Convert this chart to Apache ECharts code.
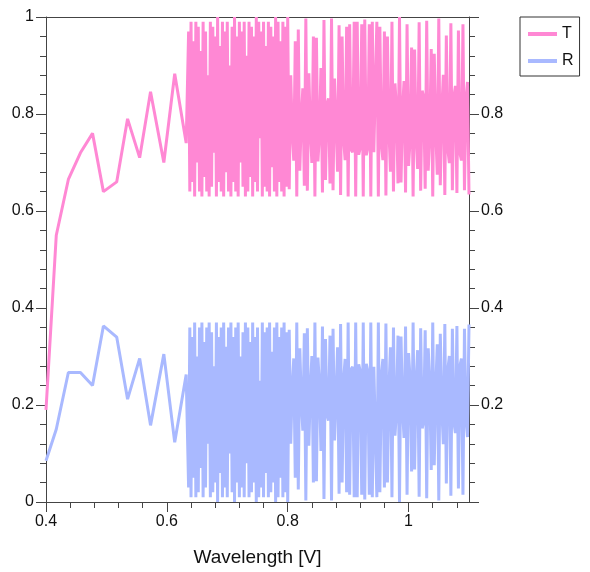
<!DOCTYPE html>
<html><head><meta charset="utf-8">
<script src="https://cdn.jsdelivr.net/npm/echarts@6/dist/echarts.min.js"></script>
<style>html,body{margin:0;padding:0;background:#fff}#c{width:590px;height:572px}</style>
</head><body><div id="c"></div>
<script>
// Coarse part of the spectrum
const xSparse = [0.400, 0.417, 0.437, 0.457, 0.477, 0.495, 0.517, 0.535, 0.555, 0.573, 0.595, 0.613, 0.632];
const tSparse = [0.19, 0.55, 0.665, 0.72, 0.76, 0.64, 0.66, 0.79, 0.71, 0.846, 0.70, 0.883, 0.74];
const rSparse = [0.085, 0.15, 0.267, 0.267, 0.24, 0.363, 0.34, 0.212, 0.296, 0.158, 0.305, 0.123, 0.263];

// Dense oscillating part, first stretch (0.636 - 0.798)
const xDenseA = [
0.636,0.638,0.640,0.642,0.644,0.646,0.648,0.650,0.652,0.654,
0.656,0.658,0.660,0.662,0.664,0.666,0.668,0.670,0.672,0.674,
0.676,0.678,0.680,0.682,0.684,0.686,0.688,0.690,0.692,0.694,
0.696,0.698,0.700,0.702,0.704,0.706,0.708,0.710,0.712,0.714,
0.716,0.718,0.720,0.722,0.724,0.726,0.728,0.730,0.732,0.734,
0.736,0.738,0.740,0.742,0.744,0.746,0.748,0.750,0.752,0.754,
0.756,0.758,0.760,0.762,0.764,0.766,0.768,0.770,0.772,0.774,
0.776,0.778,0.780,0.782,0.784,0.786,0.788,0.790,0.792,0.794,
0.796,0.798];
const tDenseA = [
.97,.64,.99,.66,.95,.63,.99,.70,.98,.64,
.93,.63,.99,.67,.97,.64,.88,.63,.99,.65,
.98,.72,.96,.63,1.0,.66,.94,.64,.99,.63,
.97,.68,.99,.64,.90,.63,.98,.66,1.0,.64,
.96,.63,.99,.70,.97,.65,.99,.63,.92,.64,
.99,.67,.98,.63,.96,.66,1.0,.64,.99,.75,
.97,.63,.99,.65,.94,.64,.99,.63,.98,.69,
.96,.64,1.0,.63,.99,.66,.95,.64,.99,.63,
.98,.65];
const rDenseA = [
.03,.36,.01,.34,.05,.37,.01,.30,.02,.36,
.07,.37,.01,.33,.03,.36,.12,.37,.01,.35,
.02,.28,.04,.37,0,.34,.06,.36,.01,.37,
.03,.32,.01,.36,.10,.37,.02,.34,0,.36,
.04,.37,.01,.30,.03,.35,.01,.37,.08,.36,
.01,.33,.02,.37,.04,.34,0,.36,.01,.25,
.03,.37,.01,.35,.06,.36,.01,.37,.02,.31,
.04,.36,0,.37,.01,.34,.05,.36,.01,.37,
.02,.35];

// Dense oscillating part, second stretch (0.800 - 1.100)
const xDenseB = [
0.8000,0.8025,0.8050,0.8075,0.8100,0.8125,0.8150,0.8175,0.8200,0.8225,
0.8250,0.8275,0.8300,0.8325,0.8350,0.8375,0.8400,0.8425,0.8450,0.8475,
0.8500,0.8525,0.8550,0.8575,0.8600,0.8625,0.8650,0.8675,0.8700,0.8725,
0.8750,0.8775,0.8800,0.8825,0.8850,0.8875,0.8900,0.8925,0.8950,0.8975,
0.9000,0.9025,0.9050,0.9075,0.9100,0.9125,0.9150,0.9175,0.9200,0.9225,
0.9250,0.9275,0.9300,0.9325,0.9350,0.9375,0.9400,0.9425,0.9450,0.9475,
0.9500,0.9525,0.9550,0.9575,0.9600,0.9625,0.9650,0.9675,0.9700,0.9725,
0.9750,0.9775,0.9800,0.9825,0.9850,0.9875,0.9900,0.9925,0.9950,0.9975,
1.0000,1.0025,1.0050,1.0075,1.0100,1.0125,1.0150,1.0175,1.0200,1.0225,
1.0250,1.0275,1.0300,1.0325,1.0350,1.0375,1.0400,1.0425,1.0450,1.0475,
1.0500,1.0525,1.0550,1.0575,1.0600,1.0625,1.0650,1.0675,1.0700,1.0725,
1.0750,1.0775,1.0800,1.0825,1.0850,1.0875,1.0900,1.0925,1.0950,1.0975,
1.1000];
const tDenseB = [
1.000,.645,.880,.764,.704,.950,.630,.974,.683,.791,
.853,.652,.997,.642,.884,.765,.699,.960,.630,.957,
.702,.758,.895,.638,.994,.664,.820,.832,.657,.997,
.643,.873,.783,.681,.983,.633,.960,.748,.705,.980,
.630,.985,.726,.721,.990,.630,.990,.716,.730,.985,
.630,.995,.715,.730,.985,.630,.990,.721,.721,.990,
.630,.980,.738,.705,.970,.632,.960,.767,.681,.990,
.640,.863,.811,.657,1.000,.659,.808,.868,.638,.985,
.693,.746,.937,.630,.933,.750,.687,.989,.642,.848,
.835,.646,.992,.683,.754,.934,.630,.924,.764,.675,
.997,.653,.807,.881,.633,.962,.727,.699,.987,.643,
.835,.858,.637,.972,.719,.704,.985,.643,.830,.866,
.634];
const rDenseB = [
0,.355,.120,.236,.296,.050,.370,.026,.317,.209,
.147,.348,.003,.358,.116,.235,.301,.040,.370,.043,
.298,.242,.105,.362,.006,.336,.180,.168,.343,.003,
.357,.127,.217,.319,.017,.367,.040,.252,.295,.020,
.370,.015,.274,.279,.010,.370,.010,.284,.270,.015,
.370,.005,.285,.270,.015,.370,.010,.279,.279,.010,
.370,.020,.262,.295,.030,.368,.040,.233,.319,.010,
.360,.137,.189,.343,0,.341,.192,.132,.362,.015,
.307,.254,.063,.370,.067,.250,.313,.011,.358,.152,
.165,.354,.008,.317,.246,.066,.370,.076,.236,.325,
.003,.347,.193,.119,.367,.038,.273,.301,.013,.357,
.165,.142,.363,.028,.281,.296,.015,.357,.170,.134,
.366];

const seriesNames = ['T', 'R'];
const xMajorTicks = [0.4, 0.6, 0.8, 1.0];
const xMinorTicks = [0.44,0.48,0.52,0.56,0.64,0.68,0.72,0.76,0.84,0.88,0.92,0.96,1.04,1.08];
const xAxisName = 'Wavelength [V]';

const xAll = xSparse.concat(xDenseA, xDenseB);
const tAll = tSparse.concat(tDenseA, tDenseB);
const rAll = rSparse.concat(rDenseA, rDenseB);
const tData = xAll.map((x, i) => [x, tAll[i]]);
const rData = xAll.map((x, i) => [x, rAll[i]]);

const FONT = '"Liberation Sans", Arial, sans-serif';
const AX = '#444';
const TXT = '#111';
const PINK = '#ff88d4';
const BLUE = '#a9b9ff';

const yAxisBase = (pos) => ({
  type: 'value', min: 0, max: 1, interval: 0.2, position: pos,
  axisLine: { show: true, onZero: false, lineStyle: { color: AX, width: 1 } },
  axisTick: { show: true, inside: false, length: 10, lineStyle: { color: AX } },
  minorTick: { show: true, splitNumber: 5, length: 6, lineStyle: { color: AX } },
  axisLabel: { margin: 12, fontFamily: FONT, fontSize: 16, color: TXT,
               showMinLabel: pos === 'left', showMaxLabel: pos === 'left' },
  splitLine: { show: false }, minorSplitLine: { show: false }
});

const chart = echarts.init(document.getElementById('c'), null, { renderer: 'canvas' });
chart.setOption({
  animation: false,
  backgroundColor: '#fff',
  grid: { left: 46, right: 121, top: 17, bottom: 69 },
  legend: {
    data: seriesNames, orient: 'vertical', left: 520, top: 17,
    borderColor: '#333', borderWidth: 1, padding: [9, 6, 7, 8],
    icon: 'rect', itemWidth: 29, itemHeight: 4, itemGap: 11,
    textStyle: { fontFamily: FONT, fontSize: 16, color: TXT }
  },
  xAxis: [
    { type: 'value', min: 0.4, max: 1.1, position: 'bottom',
      axisLine: { show: true, onZero: false, lineStyle: { color: AX } },
      axisTick: { show: true, length: 10, customValues: xMajorTicks, lineStyle: { color: AX } },
      axisLabel: { customValues: xMajorTicks, margin: 12, fontFamily: FONT, fontSize: 16, color: TXT },
      splitLine: { show: false },
      name: xAxisName, nameLocation: 'middle', nameGap: 46,
      nameTextStyle: { fontFamily: FONT, fontSize: 19, color: TXT } },
    { type: 'value', min: 0.4, max: 1.1, position: 'bottom',
      axisLine: { show: false },
      axisTick: { show: true, length: 6, customValues: xMinorTicks, lineStyle: { color: AX } },
      axisLabel: { show: false }, splitLine: { show: false } },
    { type: 'value', min: 0.4, max: 1.1, position: 'top',
      axisLine: { show: true, onZero: false, lineStyle: { color: AX } },
      axisTick: { show: false }, axisLabel: { show: false }, splitLine: { show: false } }
  ],
  yAxis: [ yAxisBase('left'), yAxisBase('right') ],
  series: [
    { name: 'T', type: 'line', data: tData, xAxisIndex: 0, yAxisIndex: 0,
      showSymbol: false, symbol: 'none', lineStyle: { color: PINK, width: 3 }, itemStyle: { color: PINK } },
    { name: 'R', type: 'line', data: rData, xAxisIndex: 0, yAxisIndex: 0,
      showSymbol: false, symbol: 'none', lineStyle: { color: BLUE, width: 3 }, itemStyle: { color: BLUE } }
  ]
});
</script>
</body></html>
